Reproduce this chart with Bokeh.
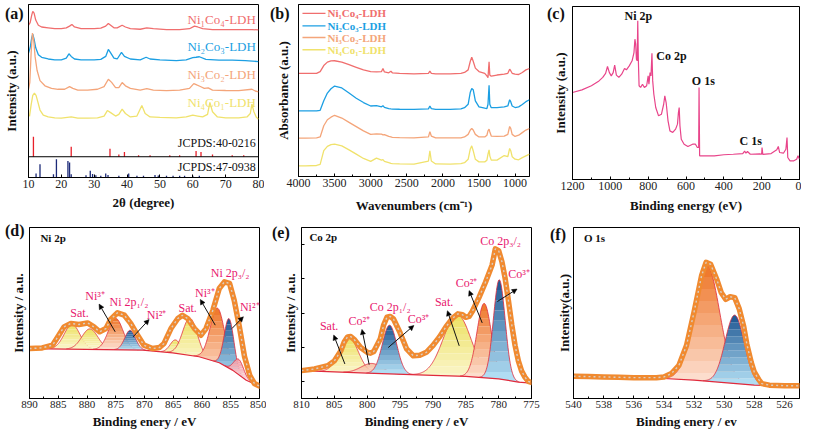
import numpy as np
from bokeh.plotting import figure
from bokeh.layouts import column, row
from bokeh.models import Range1d, FixedTicker, Span, Label, Arrow, NormalHead, GridBox, Div
from bokeh.embed import file_html
from bokeh.resources import INLINE

SERIF = "Liberation Serif"

# ---------------- (a) XRD ----------------
xrd_names = ["Ni\u2081Co\u2084-LDH", "Ni\u2082Co\u2083-LDH", "Ni\u2083Co\u2082-LDH", "Ni\u2084Co\u2081-LDH"]
xrd_colors = ["#f06e6e", "#1c9fe3", "#f4a57a", "#f0e26c"]
xrd_red_x = [10, 10.5, 11, 11.3, 11.7, 12.2, 13, 14, 16, 18, 20, 21.5, 22.5, 23.2, 24, 26, 28, 30, 32, 33.5, 34.3, 35, 36, 37, 38.5, 39.5, 41, 44, 46, 48, 52, 56, 59, 60.5, 61.5, 63, 66, 70, 75, 78, 80]
xrd_red_y = [88, 89.5, 94, 96, 95, 91, 88, 87, 86.5, 86, 86, 86.5, 87.5, 88.5, 87, 86, 86, 86, 86.3, 87.5, 89, 88, 86.5, 86.5, 88, 87, 86, 85.7, 86.5, 86, 85.5, 85.5, 86, 87.5, 87, 86, 85.5, 85.5, 85.5, 85.5, 85.3]
xrd_blue_x = [10, 10.5, 11, 11.3, 11.7, 12.2, 13, 14, 16, 18, 20, 21.5, 22.3, 23, 24, 26, 28, 30, 32, 33.5, 34.3, 35, 36, 37, 38.3, 39.2, 41, 44, 45.8, 47, 50, 55, 58, 60, 61, 62, 64, 68, 72, 76, 80]
xrd_blue_y = [72, 75, 81, 82.8, 80, 75, 71, 69.5, 68.5, 68, 68, 69, 71.5, 70, 68.5, 68, 68, 68, 68.3, 70, 74, 72, 69, 68.5, 72.3, 70, 68.5, 68, 69.5, 68.5, 68, 67.6, 68, 69.3, 69.5, 69.8, 68.3, 67.8, 67.8, 67.6, 67]
xrd_orange_x = [10, 10.4, 10.8, 11.2, 11.6, 12, 12.6, 13.5, 15, 17, 19, 21, 22.5, 23.5, 25, 28, 31, 33, 34.3, 35.3, 36.5, 37.5, 38.5, 39.5, 41, 44, 46, 48, 52, 56, 59, 60.3, 61.2, 62.3, 63.5, 64.7, 66, 70, 74, 78, 79, 80]
xrd_orange_y = [51, 55, 72, 83.5, 79, 70, 62, 56, 53, 51.5, 51, 51, 52.5, 51.5, 50.5, 50.5, 51, 52.5, 56.8, 55, 52, 52, 54.9, 53, 51.5, 50.5, 51.4, 50.5, 50.2, 50.5, 51.5, 54.3, 53.5, 52.6, 51.5, 51.8, 50.5, 50.3, 50.2, 51, 50, 49.5]
xrd_yellow_x = [10.3, 10.8, 11.3, 11.8, 12.3, 12.8, 13.5, 14.5, 16, 18, 20, 23, 25, 28, 31, 33, 34, 35, 36.5, 37.5, 38.5, 39.5, 41, 43, 44.5, 45.5, 47, 50, 55, 58, 60, 61.5, 63, 64.5, 65.2, 66, 67.5, 70, 74, 76.5, 77.5, 78, 78.6, 79.3, 80]
xrd_yellow_y = [35.3, 42, 47.5, 48.7, 47.5, 44, 39, 36, 35, 34.5, 34.3, 35, 34.3, 34.3, 34.5, 35.5, 38.7, 37.5, 35.5, 36.5, 39.5, 37, 35, 35.5, 41.6, 37, 35, 34.8, 34.5, 35, 36, 35.5, 35, 36.5, 43.4, 38, 35, 34.5, 34.5, 35, 37, 42.4, 38, 35, 33.7]
jcpds40_pos = [11.5, 23.0, 34.8, 37.5, 39.2, 43.5, 47.0, 53.0, 56.0, 61.0, 62.5, 66.0, 72.0, 75.5]
jcpds40_int = [11.6, 5.8, 4.6, 1.3, 2.7, 0.8, 0.8, 0.8, 0.8, 3.3, 2.7, 1.3, 0.8, 0.8]
jcpds47_pos = [12.3, 13.5, 17.6, 18.5, 22.0, 22.5, 23.0, 27.5, 28.8, 29.5, 30.5, 32.0, 33.5, 34.2, 37.5, 40.5, 43.0, 45.0, 48.5, 49.5, 52.0, 54.0, 56.0, 57.5, 60.0, 62.0]
jcpds47_int = [2.3, 7.7, 1.9, 10.6, 9.6, 8.7, 1.9, 1.3, 3.9, 2.0, 1.3, 1.0, 2.3, 1.5, 1.0, 2.3, 1.0, 1.0, 1.5, 1.2, 1.0, 1.0, 1.0, 1.0, 1.0, 1.0]

# ---------------- (b) FTIR ----------------
ftir_x = [4000, 3900, 3750, 3700, 3650, 3600, 3550, 3500, 3400, 3300, 3200, 3100, 3000, 2920, 2850, 2830, 2810, 2750, 2720, 2700, 2600, 2400, 2200, 2180, 2160, 2100, 1900, 1750, 1700, 1650, 1620, 1600, 1580, 1550, 1500, 1420, 1390, 1375, 1360, 1350, 1330, 1250, 1150, 1100, 1075, 1060, 1040, 1000, 950, 900, 850, 800]
ftir_red = [59.9, 59.9, 60, 61, 64.5, 66.5, 67.2, 67.3, 66.5, 65, 63.5, 62, 61, 60.8, 61, 62.8, 60.8, 60.3, 61.2, 60.3, 60, 59.7, 60, 61.2, 60, 59.7, 59.7, 60, 60.5, 62, 67, 69.3, 67, 63, 61, 60, 58.5, 57.5, 66.7, 59, 58.3, 59, 59.5, 60, 62.4, 61.5, 60, 59.5, 59.3, 60.5, 62, 62.8]
ftir_blue = [38.2, 38.2, 38.2, 38.5, 44, 48.5, 51, 52.6, 51.5, 48.5, 45.5, 43, 41, 41.2, 40.5, 41.2, 40.2, 39.5, 39.3, 39.2, 39.1, 39, 39.3, 41, 39.5, 39, 39, 39.3, 40, 42, 49, 51.2, 50.5, 44, 40.5, 39.7, 39.5, 42, 53.1, 42, 40, 40, 40.5, 41, 44.6, 43.5, 41, 40.1, 40.5, 41.9, 43.5, 44.6]
ftir_orange = [22.3, 22.3, 22.5, 23, 29.5, 33, 34.5, 35.6, 34, 31.5, 29, 26.5, 24.5, 24.8, 24.6, 24.2, 24.4, 23.3, 23, 22.8, 22.6, 22.4, 23, 26, 23.5, 22.5, 22.4, 22.5, 23, 24.5, 27, 27.9, 27, 24.5, 23, 23, 24, 26.5, 27.5, 26, 23.5, 23.3, 23.5, 24.5, 29.1, 28, 24.5, 23.3, 24, 25.5, 27, 27.9]
ftir_yellow = [6.2, 6.2, 6.4, 7, 15, 17.5, 18.5, 18.8, 17.8, 15.5, 13, 10.5, 8.8, 10.7, 9.5, 9.8, 8.8, 8, 7.6, 7.5, 7.3, 7.2, 9, 14.9, 9, 7.3, 7.2, 7.5, 8, 10, 16, 17.8, 15, 10, 8.5, 8.5, 9.5, 13, 15.5, 12, 9.5, 9.5, 12.2, 11.5, 16.3, 15, 11.5, 10.1, 9.7, 11, 12, 13]

# ---------------- (c) XPS survey ----------------
survey_x = [1200, 1150, 1100, 1060, 1040, 1025, 1015, 1005, 995, 985, 977, 968, 955, 940, 925, 915, 900, 885, 875, 870, 866, 862, 858, 855, 852, 848, 840, 830, 820, 808, 800, 796, 790, 785, 780, 776, 770, 760, 745, 730, 718, 712, 705, 695, 685, 670, 655, 645, 640, 636, 632, 625, 610, 590, 565, 550, 540, 533, 531, 528, 500, 450, 400, 350, 300, 290, 283, 275, 260, 210, 200, 198, 194, 150, 120, 112, 105, 85, 72, 66, 62, 50, 30, 15, 8, 0]
survey_y = [50.3, 51.8, 54.2, 57, 59, 61.3, 65.3, 61.8, 59.9, 61.8, 66.1, 60.3, 59, 60.9, 64.2, 63.4, 65.7, 68.6, 73.4, 81.1, 78.2, 69.5, 68.6, 91.7, 69.5, 54.2, 53.2, 55.1, 53.2, 54.2, 59.9, 55.1, 61.8, 59.9, 73, 57, 49.3, 41.6, 36.8, 37.7, 43.5, 48.4, 44.5, 33.9, 28.1, 27.2, 29.1, 32, 38.7, 41.6, 31, 23.3, 20.4, 19.1, 20.4, 20.4, 18.5, 18.5, 53.2, 13.7, 13.7, 13.7, 14.3, 14.6, 15, 16.4, 15.2, 16.2, 14.6, 14.8, 14.6, 18.5, 14.5, 15, 17.2, 19.1, 15.6, 15.2, 17.5, 24.3, 12.7, 10.8, 10.8, 11.7, 13.7, 11.7]
survey_labels = ["Ni 2p", "Co 2p", "O 1s", "C 1s"]

# ---------------- (d) Ni 2p ----------------
ni_env_e = [890, 887.8, 886, 884.9, 884, 882.8, 881.4, 879.9, 878.8, 877.8, 876.7, 875.9, 874.7, 873.5, 872.4, 871.2, 870.1, 868.6, 867.4, 866.6, 865.4, 864.2, 863.4, 862.5, 861.3, 860.2, 859.3, 858.1, 857, 856.1, 855.2, 854.4, 853.5, 852.6, 851.7, 850.9, 850]
ni_env_v = [29.2, 29.6, 31.2, 37, 41.9, 43.9, 43.3, 44.2, 41.9, 39, 40.9, 46.2, 50.1, 48.7, 43.9, 37, 31.2, 29.2, 29.8, 32.2, 40.9, 46.8, 48.7, 46.8, 40.9, 37, 40.9, 51.7, 64.3, 68.2, 67.3, 57.5, 41.9, 24.4, 13.6, 8.8, 7.2]
ni_bg_e = [850, 852.3, 854.7, 857, 860.5, 865.1, 870.3, 890]
ni_bg_v = [7.2, 10.7, 16.6, 20.9, 24.4, 26.7, 28.3, 29.2]
ni_pk_c = [882.6, 879.5, 875.0, 872.5, 864.6, 862.1, 857.3, 855.3, 853.6]
ni_pk_h = [14.5, 12.0, 18.3, 11.5, 7.8, 21.8, 31.6, 29.0, 9.0]
ni_pk_w = [3.2, 3.3, 3.0, 2.2, 2.2, 3.0, 3.0, 2.0, 2.0]
ni_pk_kind = ["sat", "sat", "hi", "lo", "sat", "sat", "hi", "lo", "pink"]

# ---------------- (e) Co 2p ----------------
co_env_e = [810, 808, 806, 805, 804, 803.5, 803, 802.5, 802, 801, 800, 799.5, 799, 798, 797.5, 797, 796.5, 796, 795, 794, 793, 792, 791, 790, 789, 788, 787, 786.2, 785.5, 785, 784.5, 784, 783, 782, 781, 780.5, 780, 779.5, 779, 778.5, 778, 777.5, 777, 776.5, 776, 775.5, 775]
co_env_v = [16.3, 17.3, 19.2, 22, 28, 33, 36, 36.2, 34.6, 29.8, 27, 26.5, 27.5, 35, 43, 47.5, 48, 46.5, 38.5, 29, 25, 25.3, 27, 31, 36, 42, 47, 49.5, 49, 47.5, 48, 51, 59, 68, 78, 87.5, 86.5, 80, 70, 57, 43, 31, 22, 16, 12.5, 10, 9.4]
co_bg_e = [775, 777, 780, 785, 790, 800, 810]
co_bg_v = [9.0, 9.6, 11.5, 12.9, 13.5, 14.8, 16.3]
co_pk_c = [802.8, 799.3, 796.6, 786.3, 782.2, 779.9]
co_pk_h = [20.5, 5.8, 28.5, 36.0, 43.5, 58.0]
co_pk_w = [3.4, 3.8, 2.6, 5.0, 2.6, 2.1]
co_pk_kind = ["sat", "peach", "lo", "sat", "hi", "lo"]

# ---------------- (f) O 1s ----------------
o_env_e = [540, 539, 538, 537, 536, 535, 534.5, 534, 533.5, 533, 532.5, 532, 531.5, 531.2, 530.9, 530.5, 530.2, 529.9, 529.6, 529.3, 529, 528.7, 528.5, 528.2, 528, 527.7, 527.5, 527, 526, 525]
o_env_v = [13, 12.8, 12.6, 12.4, 12.2, 12.2, 12.2, 12.6, 14.6, 19.4, 31, 50.5, 71.8, 79.6, 78.5, 69.9, 62, 58, 59.5, 59, 52.4, 42, 32, 21, 15.5, 11, 8.7, 7.8, 7.5, 7.4]
o_bg_e = [525, 526, 528, 530, 532, 534, 540]
o_bg_v = [7.4, 7.4, 7.8, 9.3, 10.7, 11.7, 12.6]
o_pk_c = [531.15, 529.3]
o_pk_h = [68.0, 40.0]
o_pk_w = [2.0, 1.5]
o_pk_kind = ["hi", "lo"]

panel_tags = ["(a)", "(b)", "(c)", "(d)", "(e)", "(f)"]

# ---------------- styling ----------------
KIND_COLORS = {
    "sat": ("#ede160", "#fbf6d0"),
    "hi": ("#ee7426", "#fde3d6"),
    "lo": ("#1b5490", "#b8e4f8"),
    "peach": ("#f3ab88", "#fde6da"),
    "pink": ("#f09aa4", "#fde2e6"),
}
MAGENTA = "#e8186e"
ENV_ORANGE = "#f08a30"
BG_RED = "#e02a3c"


def mix(c1, c2, t):
    a = [int(c1[i:i + 2], 16) for i in (1, 3, 5)]
    b = [int(c2[i:i + 2], 16) for i in (1, 3, 5)]
    return "#%02x%02x%02x" % tuple(int(round(a[k] + (b[k] - a[k]) * t)) for k in range(3))


def panel(width, height, xr, bl, br, bt, bb, xticks, xminor, xlabel, ylabel,
          tick_px, ylab_standoff, xlab_standoff, yticks=None):
    p = figure(width=width, height=height, x_range=xr, y_range=Range1d(0, 100),
               output_backend="svg", toolbar_location=None,
               min_border_left=bl, min_border_right=br, min_border_top=bt, min_border_bottom=bb)
    p.grid.visible = False
    p.outline_line_color = "black"
    p.outline_line_alpha = 1
    p.outline_line_width = 1
    xa = p.xaxis[0]
    xa.ticker = FixedTicker(ticks=xticks, minor_ticks=xminor)
    xa.major_tick_in = 3
    xa.major_tick_out = 0
    xa.minor_tick_in = 2
    xa.minor_tick_out = 0
    xa.axis_line_color = "black"
    xa.major_label_text_font = SERIF
    xa.major_label_text_font_size = tick_px
    xa.major_label_text_color = "#222222"
    xa.major_label_standoff = 2
    xa.axis_label = xlabel
    xa.axis_label_text_font = SERIF
    xa.axis_label_text_font_style = "bold"
    xa.axis_label_text_font_size = "13px"
    xa.axis_label_text_color = "#111111"
    xa.axis_label_standoff = xlab_standoff
    ya = p.yaxis[0]
    yt = yticks or []
    ya.ticker = FixedTicker(ticks=yt, minor_ticks=[])
    ya.major_label_overrides = {t: "" for t in yt}
    ya.major_tick_in = 3
    ya.major_tick_out = 0
    ya.minor_tick_in = 0
    ya.minor_tick_out = 0
    ya.major_label_standoff = 0
    ya.axis_line_color = "black"
    ya.axis_label = ylabel
    ya.axis_label_text_font = SERIF
    ya.axis_label_text_font_style = "bold"
    ya.axis_label_text_font_size = "13px"
    ya.axis_label_text_color = "#111111"
    ya.axis_label_standoff = ylab_standoff
    return p


def with_tag(p, text, dx, dy):
    """Overlay the panel tag (a small text box) on the top-left corner of the figure's cell."""
    d = Div(text=text, width=34, height=22,
            styles={"font-family": SERIF, "font-weight": "bold", "font-size": "16px",
                    "color": "#111111", "line-height": "18px",
                    "padding-left": "%dpx" % dx, "padding-top": "%dpx" % dy,
                    "background": "transparent"})
    return GridBox(children=[(p, 0, 0), (d, 0, 0)])


def txt(p, x, y, text, color="#111111", size="12px", style="normal", align="center", baseline="middle"):
    p.add_layout(Label(x=x, y=y, text=text, text_font=SERIF, text_font_style=style,
                       text_font_size=size, text_color=color, text_align=align, text_baseline=baseline))


def arrow(p, x0, y0, x1, y1):
    p.add_layout(Arrow(end=NormalHead(size=5, fill_color="black", line_color="black", line_width=0.5),
                       x_start=x0, y_start=y0, x_end=x1, y_end=y1,
                       line_color="#111111", line_width=1))


def xps(p, lo, hi, env_e, env_v, bg_e, bg_v, pc, ph, pw, kinds):
    grid = np.linspace(lo, hi, 500)
    base = np.interp(grid, bg_e, bg_v)
    for c, h, w, k in zip(pc, ph, pw, kinds):
        comp = h * np.exp(-4 * np.log(2) * (grid - c) ** 2 / w ** 2)
        m = comp > 0.15
        xs, b = grid[m], base[m]
        g = b + comp[m]
        top_c, bot_c = KIND_COLORS[k]
        levels = np.linspace(b.min(), g.max(), 11)
        for i in range(10):
            lower = np.minimum(np.maximum(b, levels[i]), levels[i + 1])
            upper = np.maximum(np.minimum(g, levels[i + 1]), lower)
            col = mix(bot_c, top_c, (i + 0.5) / 10)
            p.varea(x=xs, y1=lower, y2=upper, fill_color=col, fill_alpha=1)
        p.line(xs, g, line_color=BG_RED, line_width=0.8)
    p.line(bg_e, bg_v, line_color=BG_RED, line_width=1.2)
    p.line(env_e, env_v, line_color=ENV_ORANGE, line_width=5.5, line_join="round", line_cap="round")
    p.line(env_e, env_v, line_color="#d9cfc6", line_width=1.4, line_dash="2 3")


# ---------------- build panels ----------------
H1, H2 = 216, 215

# (a)
pa = panel(264, H1, Range1d(10, 80), 28, 6, 4, 39, list(range(10, 81, 10)), [],
           "2\u03b8 (degree)", "Intensity (a.u.)", "12px", 10, 4)
for xs_, ys_, c in zip([xrd_red_x, xrd_blue_x, xrd_orange_x, xrd_yellow_x],
                       [xrd_red_y, xrd_blue_y, xrd_orange_y, xrd_yellow_y], xrd_colors):
    pa.line(xs_, ys_, line_color=c, line_width=1.3)
for name, c, yy in zip(xrd_names, xrd_colors, [91.5, 75.7, 59.7, 43.4]):
    txt(pa, 79.2, yy, name, color=c, size="13px", align="right")
pa.add_layout(Span(location=12, dimension="width", line_color="black", line_width=1))
pa.segment(x0=jcpds40_pos, x1=jcpds40_pos, y0=[12] * len(jcpds40_pos),
           y1=[12 + v for v in jcpds40_int], line_color="#e8202a", line_width=1.3)
pa.segment(x0=jcpds47_pos, x1=jcpds47_pos, y0=[0] * len(jcpds47_pos),
           y1=jcpds47_int, line_color="#1c2a78", line_width=1.3)
txt(pa, 79.2, 19.7, "JCPDS:40-0216", size="12px", align="right")
txt(pa, 79.2, 5.8, "JCPDS:47-0938", size="12px", align="right")

# (b)
pb = panel(278, H1, Range1d(4000, 800), 34, 13, 4, 40, list(range(1000, 4001, 500)),
           list(range(1000, 4001, 250)), "Wavenumbers (cm\u207b\u00b9)", "Absorbance (a.u.)", "12px", 8, 8)
for ys_, c in zip([ftir_red, ftir_blue, ftir_orange, ftir_yellow], xrd_colors):
    pb.line(ftir_x, ys_, line_color=c, line_width=1.3)
for name, c, yy in zip(xrd_names, xrd_colors, [94.8, 87.6, 80.8, 73.7]):
    pb.line([3945, 3626], [yy, yy], line_color=c, line_width=1.3)
    txt(pb, 3598, yy, name, color=c, size="11px", style="bold", align="left")

# (c)
pc = panel(259, H1, Range1d(1200, 0), 30, 2, 6, 37, list(range(0, 1201, 200)),
           list(range(0, 1201, 100)), "Binding energy (eV)", "Intensity (a.u.)", "12px", 5, 5)
pc.line(survey_x, survey_y, line_color="#e8448a", line_width=1.2)
for lab, lx, ly, al in zip(survey_labels, [852, 757, 569, 317], [94.6, 71.5, 57, 22.4],
                           ["center", "left", "left", "left"]):
    txt(pc, lx, ly, lab, size="12px", style="bold", align=al)

# (d)
pd_ = panel(266, H2, Range1d(890, 850), 29, 7, 11, 33, list(range(850, 891, 5)),
            list(np.arange(850, 890.1, 2.5)), "Binding enery / eV", "Intensity / a.u.", "11px", 4, 3)
xps(pd_, 850, 890, ni_env_e, ni_env_v, ni_bg_e, ni_bg_v, ni_pk_c, ni_pk_h, ni_pk_w, ni_pk_kind)
txt(pd_, 888.1, 93.6, "Ni 2p", size="11px", style="bold", align="left")
for t, lx, ly in [("Sat.", 881.3, 50.1), ("Ni\u00b3\u207a", 878.6, 59.8), ("Ni 2p\u2081/\u2082", 872.7, 56.5),
                  ("Ni\u00b2\u207a", 867.9, 48.7), ("Sat.", 862.5, 53.2), ("Ni\u00b3\u207a", 859.5, 61.8),
                  ("Ni 2p\u2083/\u2082", 855.1, 73.5), ("Ni\u00b2\u207a", 851.7, 53.6)]:
    txt(pd_, lx, ly, t, color=MAGENTA, size="12px")
for a in [(875.1, 39, 877.9, 55.2), (872, 36, 869.2, 46.2), (857.7, 42.9, 860.3, 57.9), (854.8, 40.9, 852.8, 47.8)]:
    arrow(pd_, *a)

# (e)
pe = panel(276, H2, Range1d(810, 775), 35, 11, 11, 33, list(range(775, 811, 5)),
           list(np.arange(775, 810.1, 2.5)), "Binding enery / eV", "Intensity / a.u.", "11px", 4, 3,
           yticks=[10, 30, 50, 70, 90])
xps(pe, 775, 810, co_env_e, co_env_v, co_bg_e, co_bg_v, co_pk_c, co_pk_h, co_pk_w, co_pk_kind)
txt(pe, 808.8, 94.2, "Co 2p", size="11px", style="bold", align="left")
for t, lx, ly in [("Sat.", 805.8, 42.3), ("Co\u00b2\u207a", 801.2, 45.2), ("Co 2p\u2081/\u2082", 796.5, 53.3),
                  ("Co\u00b3\u207a", 792.2, 46.7), ("Sat.", 788.3, 56.3), ("Co\u00b2\u207a", 784.9, 67.3),
                  ("Co 2p\u2083/\u2082", 779.7, 92.3), ("Co\u00b3\u207a", 776.9, 72.7)]:
    txt(pe, lx, ly, t, color=MAGENTA, size="12px")
for a in [(803.4, 20.2, 805.1, 37.1), (799.7, 19.8, 800.8, 40.4), (796.8, 29.8, 792.9, 42.7),
          (786, 30.8, 787.8, 51.3), (782.5, 44.2, 784.5, 63.1), (780.2, 56.7, 777.2, 64)]:
    arrow(pe, *a)

# (f)
pf = panel(259, H2, Range1d(540, 525), 31, 2, 11, 33, list(range(526, 541, 2)),
           list(range(525, 541, 1)), "Binding enery / ev", "Intensity(a.u.)", "11px", 2, 3)
xps(pf, 525, 540, o_env_e, o_env_v, o_bg_e, o_bg_v, o_pk_c, o_pk_h, o_pk_w, o_pk_kind)
txt(pf, 539.3, 94, "O 1s", size="11px", style="bold", align="left")

# tag offsets inside each cell (padding left, padding top, px)
tag_pos = [(0, 0), (1, 0), (0, 0), (0, 1), (1, 3), (3, 5)]
figs = [pa, pb, pc, pd_, pe, pf]
boxes = [with_tag(f, t, x, y) for f, t, (x, y) in zip(figs, panel_tags, tag_pos)]

layout = column(row(*boxes[:3]), row(*boxes[3:]))
open("out.html", "w").write(file_html(layout, INLINE))
